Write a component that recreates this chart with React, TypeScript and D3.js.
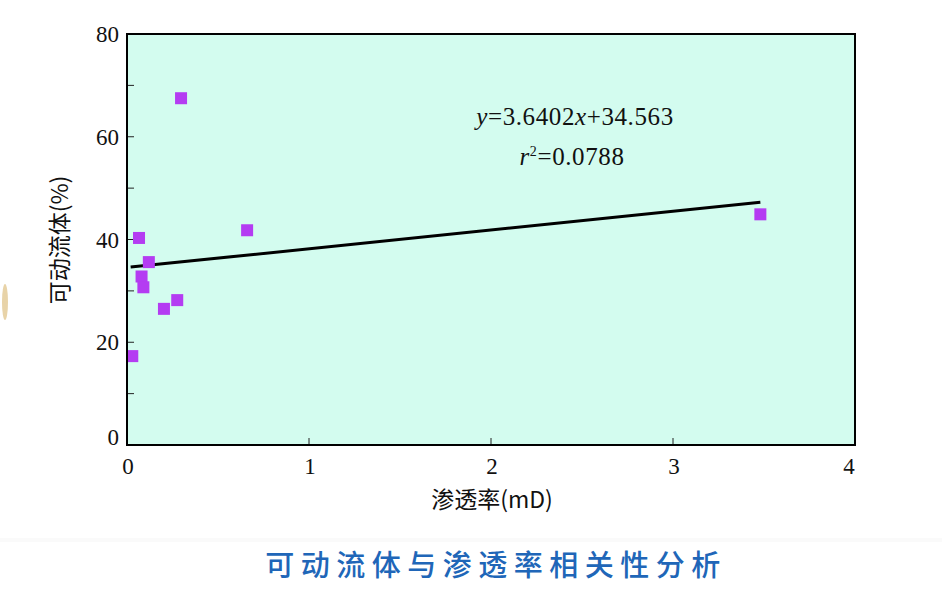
import React from "react";
import * as d3 from "d3";

const permeability = [0.297, 0.066, 0.12, 0.08, 0.09, 0.203, 0.276, 0.029, 0.66, 3.48];
const movableFluid = [67.5, 40.3, 35.6, 32.8, 30.7, 26.5, 28.2, 17.3, 41.8, 44.9];
const xTicks = [0, 1, 2, 3, 4];
const yTicks = [0, 20, 40, 60, 80];
const yMinorTicks = [10, 30, 50, 70];
const slope = 3.6402;
const intercept = 34.563;
const fitRange = [0.02, 3.48];

const W = 942;
const H = 595;
const L = 127, R = 855, T = 34, B = 445;

export default function App() {
  const x = d3.scaleLinear().domain([0, 4]).range([L, R]);
  const y = d3.scaleLinear().domain([0, 80]).range([B, T]);
  const line = d3.line<number>().x((d) => x(d)).y((d) => y(slope * d + intercept));
  const serif = "'Liberation Serif', 'DejaVu Serif', serif";
  const cjk = "'Noto Sans CJK SC', sans-serif";
  const sq = 12;
  return (
    <svg width={W} height={H} style={{ position: "absolute", left: 0, top: 0, background: "#fff" }}>
      <rect x={0} y={0} width={W} height={H} fill="#ffffff" />
      <rect x={0} y={538} width={W} height={4} fill="#fafafa" />
      <ellipse cx={5} cy={302} rx={3} ry={18} fill="#e8d3a8" />
      <rect x={L} y={T} width={R - L} height={B - T} fill="#d3fcef" />
      {yMinorTicks.map((t) => (
        <line key={"m" + t} x1={L} x2={L + 7} y1={y(t)} y2={y(t)} stroke="#222" strokeWidth={1} />
      ))}
      {yTicks.filter((t) => t > 0 && t < 80).map((t) => (
        <line key={"yt" + t} x1={L} x2={L + 7} y1={y(t)} y2={y(t)} stroke="#222" strokeWidth={1} />
      ))}
      {xTicks.filter((t) => t > 0 && t < 4).map((t) => (
        <line key={"xt" + t} x1={x(t)} x2={x(t)} y1={B} y2={B - 7} stroke="#222" strokeWidth={1} />
      ))}
      <path d={line(fitRange) || ""} stroke="#000" strokeWidth={3} fill="none" />
      {permeability.map((p, i) => (
        <rect key={i} x={x(p) - sq / 2} y={y(movableFluid[i]) - sq / 2} width={sq} height={sq} fill="#b43cf2" />
      ))}
      <rect x={L} y={T} width={R - L} height={B - T} fill="none" stroke="#000" strokeWidth={2} />
      {yTicks.map((t) => (
        <text key={"yl" + t} x={119} y={y(t) - (t === 0 ? 8 : 0)} dy="0.35em" textAnchor="end" fontFamily={serif} fontSize={23} fill="#111">
          {t}
        </text>
      ))}
      {xTicks.map((t) => (
        <text key={"xl" + t} x={x(t) + (t === 4 ? -6 : 1)} y={466} dy="0.35em" textAnchor="middle" fontFamily={serif} fontSize={23} fill="#111">
          {t}
        </text>
      ))}
      <text x={575} y={125} textAnchor="middle" fontFamily={serif} fontSize={25} letterSpacing={0.6} fill="#111">
        <tspan fontStyle="italic">y</tspan>=3.6402<tspan fontStyle="italic">x</tspan>+34.563
      </text>
      <text x={572} y={165} textAnchor="middle" fontFamily={serif} fontSize={25} letterSpacing={0.6} fill="#111">
        <tspan fontStyle="italic">r</tspan>
        <tspan fontSize={14} dy={-9}>2</tspan>
        <tspan dy={9}>=0.0788</tspan>
      </text>
      <text x={492} y={500} dy="0.35em" textAnchor="middle" fontFamily={cjk} fontSize={23} fill="#111">
        渗透率(mD)
      </text>
      <text transform={`translate(60,240) rotate(-90)`} dy="0.35em" textAnchor="middle" fontFamily={cjk} fontSize={23} fill="#111">
        可动流体(%)
      </text>
      <text x={496} y={566} dy="0.35em" textAnchor="middle" fontFamily={cjk} fontSize={29} fontWeight={500} letterSpacing={6.5} fill="#2066b8">
        可动流体与渗透率相关性分析
      </text>
    </svg>
  );
}
